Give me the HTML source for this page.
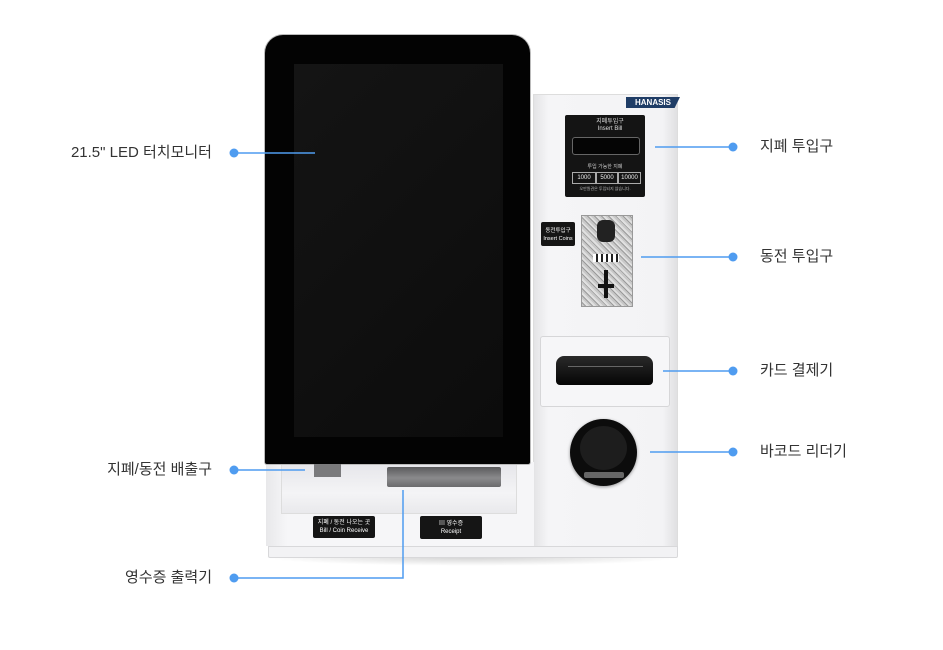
<!DOCTYPE html>
<html><head><meta charset="utf-8"><style>
body{margin:0;width:943px;height:650px;background:#fff;position:relative;overflow:hidden;font-family:"Liberation Sans","Noto Sans CJK KR",sans-serif;}
.a{position:absolute;}
.lbl{position:absolute;font-size:15px;color:#333;white-space:nowrap;line-height:18px;}
.tag{position:absolute;background:#151515;color:#fff;border-radius:2px;text-align:center;font-size:6px;line-height:8px;}
</style></head><body>
<!-- shadow -->
<div class="a" style="left:262px;top:548px;width:420px;height:18px;background:radial-gradient(ellipse at center,rgba(0,0,0,.18),rgba(0,0,0,0) 70%);"></div>
<!-- right panel -->
<div class="a" style="left:533px;top:94px;width:143px;height:452px;background:linear-gradient(90deg,#e4e4e6,#f5f5f7 10%,#f3f3f5 90%,#e0e0e2);border:1px solid #ddd;"></div>
<!-- lower body -->
<div class="a" style="left:266px;top:462px;width:268px;height:84px;background:linear-gradient(90deg,#e8e8ea,#f6f6f8 8%);"></div>
<!-- recess -->
<div class="a" style="left:281px;top:464px;width:234px;height:49px;background:linear-gradient(180deg,#e6e6ea,#f4f4f6 60%,#e9e9ec);border:1px solid #ddd;border-top:none;"></div>
<!-- base -->
<div class="a" style="left:268px;top:546px;width:408px;height:10px;background:#f2f2f4;border:1px solid #d8d8da;border-radius:0 0 2px 2px;"></div>
<!-- monitor -->
<div class="a" style="left:265px;top:35px;width:265px;height:429px;background:#030303;border-radius:18px 18px 2px 2px;box-shadow:0 0 0 1px #bbb;"></div>
<div class="a" style="left:294px;top:64px;width:209px;height:373px;background:linear-gradient(135deg,#141414,#0c0c0c);"></div>
<!-- bill outlet tab -->
<div class="a" style="left:314px;top:464px;width:27px;height:13px;background:#7a7a7c;"></div>
<!-- receipt slot -->
<div class="a" style="left:387px;top:467px;width:114px;height:20px;background:linear-gradient(180deg,#5a5a5c,#8a8a8c 55%,#6a6a6c);border-radius:2px;"></div>
<!-- labels bottom -->
<div class="tag" style="left:313px;top:516px;width:62px;height:22px;padding-top:3px;box-sizing:border-box;">지폐 / 동전 나오는 곳<br>Bill / Coin Receive</div>
<div class="tag" style="left:420px;top:516px;width:62px;height:23px;padding-top:4px;box-sizing:border-box;">&#9636; 영수증<br>Receipt</div>
<!-- HANASIS -->
<div class="a" style="left:626px;top:97px;width:54px;height:11px;background:#1f3d66;color:#fff;font-size:8px;font-weight:bold;line-height:11px;text-align:center;clip-path:polygon(0 0,100% 0,90% 100%,0 100%);">HANASIS</div>
<!-- bill panel -->
<div class="a" style="left:565px;top:115px;width:80px;height:82px;background:#141414;border-radius:2px;"></div>
<div class="a" style="left:585px;top:119px;width:50px;color:#ddd;font-size:6px;line-height:7px;text-align:center;">지폐투입구<br>Insert Bill</div>
<div class="a" style="left:572px;top:137px;width:66px;height:16px;background:#050505;border:1px solid #666;border-radius:3px;"></div>
<div class="a" style="left:565px;top:163px;width:80px;color:#ccc;font-size:5px;text-align:center;">투입 가능한 지폐</div>
<div class="a" style="left:572px;top:172px;width:22px;height:10px;border:1px solid #aaa;color:#eee;font-size:6px;line-height:10px;text-align:center;">1000</div>
<div class="a" style="left:596px;top:172px;width:20px;height:10px;border:1px solid #aaa;color:#eee;font-size:6px;line-height:10px;text-align:center;">5000</div>
<div class="a" style="left:618px;top:172px;width:21px;height:10px;border:1px solid #aaa;color:#eee;font-size:6px;line-height:10px;text-align:center;">10000</div>
<div class="a" style="left:565px;top:186px;width:80px;color:#bbb;font-size:4px;text-align:center;">오만원권은 투입되지 않습니다.</div>
<!-- coin -->
<div class="tag" style="left:541px;top:222px;width:34px;height:24px;padding-top:5px;box-sizing:border-box;font-size:5.5px;">동전투입구<br>Insert Coins</div>
<div class="a" style="left:581px;top:215px;width:50px;height:90px;background:repeating-linear-gradient(45deg,#c8c8c8 0 2px,#9a9a9a 2px 3px,#e0e0e0 3px 5px);border:1px solid #999;"></div>
<div class="a" style="left:597px;top:220px;width:18px;height:22px;background:#222;border-radius:6px;"></div>
<div class="a" style="left:593px;top:254px;width:26px;height:8px;background:repeating-linear-gradient(90deg,#fff 0 3px,#222 3px 5px);"></div>
<div class="a" style="left:604px;top:270px;width:4px;height:28px;background:#111;"></div>
<div class="a" style="left:598px;top:284px;width:16px;height:4px;background:#111;"></div>
<!-- card -->
<div class="a" style="left:540px;top:336px;width:128px;height:69px;border:1px solid #d6d6d8;border-radius:3px;background:#f6f6f8;"></div>
<div class="a" style="left:556px;top:356px;width:97px;height:29px;background:linear-gradient(180deg,#2a2a2a,#050505);border-radius:8px 8px 4px 4px;"></div>
<div class="a" style="left:568px;top:366px;width:75px;height:1px;background:#666;"></div>
<!-- barcode -->
<div class="a" style="left:570px;top:419px;width:67px;height:67px;border-radius:50%;background:#0c0c0c;box-shadow:0 1px 3px rgba(0,0,0,.4);"></div>
<div class="a" style="left:580px;top:426px;width:47px;height:44px;border-radius:50%;background:#1d1d1d;"></div>
<div class="a" style="left:584px;top:472px;width:40px;height:6px;background:#666;border-radius:2px;"></div>
<!-- callouts -->
<svg class="a" style="left:0;top:0" width="943" height="650">
<g stroke="#4f9cf0" stroke-width="1.5" fill="none">
<line x1="234" y1="153" x2="315" y2="153"/>
<line x1="234" y1="470" x2="305" y2="470"/>
<polyline points="234,578 403,578 403,490"/>
<line x1="655" y1="147" x2="733" y2="147"/>
<line x1="641" y1="257" x2="733" y2="257"/>
<line x1="663" y1="371" x2="733" y2="371"/>
<line x1="650" y1="452" x2="733" y2="452"/>
</g>
<g fill="#4f9cf0">
<circle cx="234" cy="153" r="4.5"/><circle cx="234" cy="470" r="4.5"/><circle cx="234" cy="578" r="4.5"/>
<circle cx="733" cy="147" r="4.5"/><circle cx="733" cy="257" r="4.5"/><circle cx="733" cy="371" r="4.5"/><circle cx="733" cy="452" r="4.5"/>
</g></svg>
<div class="lbl" style="right:731px;top:144px;">21.5" LED 터치모니터</div>
<div class="lbl" style="right:731px;top:461px;">지폐/동전 배출구</div>
<div class="lbl" style="right:731px;top:569px;">영수증 출력기</div>
<div class="lbl" style="left:760px;top:138px;">지폐 투입구</div>
<div class="lbl" style="left:760px;top:248px;">동전 투입구</div>
<div class="lbl" style="left:760px;top:362px;">카드 결제기</div>
<div class="lbl" style="left:760px;top:443px;">바코드 리더기</div>
</body></html>
